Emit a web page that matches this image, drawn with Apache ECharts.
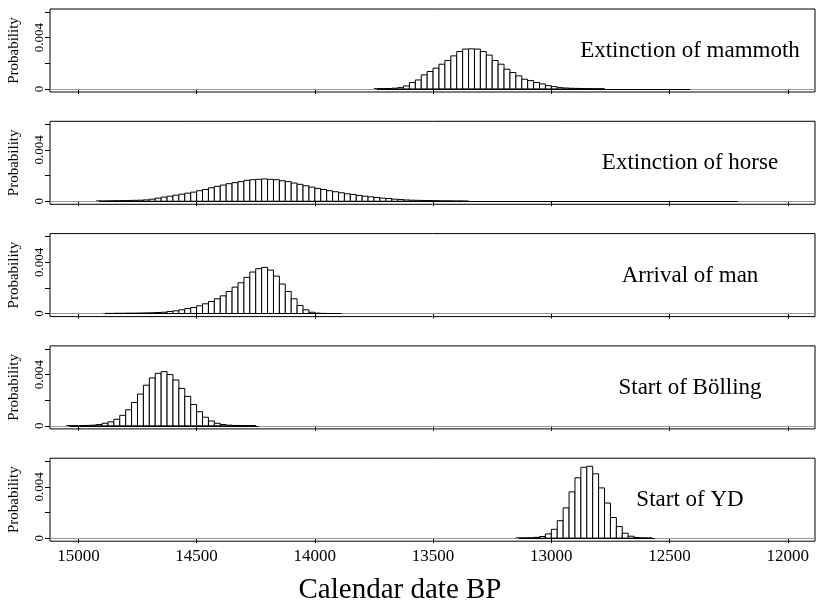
<!DOCTYPE html>
<html>
<head>
<meta charset="utf-8">
<script src="https://cdn.jsdelivr.net/npm/echarts@6/dist/echarts.min.js"></script>
<style>
  html, body { margin: 0; padding: 0; background: #fff; }
  #chart { width: 820px; height: 612px; }
</style>
</head>
<body>
<div id="chart"></div>
<script>
// histogram bins are 25 calendar years wide; each panel lists its bars from the oldest bin centre
const binWidth = 25;
const panelNames = ['Extinction of mammoth', 'Extinction of horse', 'Arrival of man', 'Start of Bölling', 'Start of YD'];

const mammothStart = 13737.5;
const mammothValues = [0.00001, 0.00002, 0.00003, 0.00006, 0.0001, 0.00023, 0.0005, 0.0007, 0.0011, 0.00136,
  0.00162, 0.00193, 0.00222, 0.00258, 0.00292, 0.00311, 0.00313, 0.00311, 0.00292, 0.00264,
  0.00222, 0.00193, 0.00154, 0.00128, 0.00102, 0.00076, 0.00065, 0.0005, 0.00039, 0.00026,
  0.00018, 0.0001, 0.00007, 0.00005, 0.00004, 0.00003, 0.00002, 0.00002, 0.00001];

const horseStart = 14912.5;
const horseValues = [0.00002, 0.00002, 0.00003, 0.00004, 0.00005, 0.00006, 0.00007, 0.00008, 0.000105, 0.00016,
  0.00024, 0.00032, 0.00039, 0.00047, 0.00055, 0.00063, 0.00071, 0.00082, 0.00092, 0.00105,
  0.00116, 0.00126, 0.00137, 0.00145, 0.00153, 0.00163, 0.00168, 0.00171, 0.00174, 0.00171,
  0.00168, 0.0016, 0.00153, 0.00142, 0.00132, 0.00121, 0.0011, 0.001, 0.00092, 0.00082,
  0.00074, 0.00066, 0.00058, 0.00053, 0.00045, 0.00039, 0.00034, 0.00029, 0.00024, 0.00021,
  0.00016, 0.00013, 0.0001, 0.00008, 0.00007, 0.00006, 0.00005, 0.00004, 0.00003, 0.00003,
  0.00002, 0.00002, 0.00001];

const manStart = 14887.5;
const manValues = [0.00001, 0.00001, 0.00002, 0.00002, 0.00003, 0.00003, 0.00004, 0.00005, 0.00006, 0.00008,
  0.0001, 0.00016, 0.00021, 0.00029, 0.00039, 0.00047, 0.0006, 0.00076, 0.00094, 0.00115,
  0.00138, 0.00172, 0.00206, 0.0024, 0.00282, 0.00324, 0.0035, 0.0036, 0.00339, 0.00292,
  0.0023, 0.00172, 0.00115, 0.00063, 0.00029, 0.0001, 0.00003, 0.00001];

const bollingStart = 15037.5;
const bollingValues = [0.00001, 0.00001, 0.00002, 0.00003, 0.00005, 0.0001, 0.0002, 0.00031, 0.00051, 0.00082,
  0.00125, 0.00182, 0.00248, 0.00317, 0.00374, 0.0041, 0.00423, 0.004, 0.00358, 0.00292,
  0.0023, 0.00166, 0.0011, 0.00067, 0.00038, 0.0002, 0.0001, 0.00005, 0.00003, 0.00002,
  0.00001, 0.00001];

const ydStart = 13137.5;
const ydValues = [0.00001, 0.00002, 0.00003, 0.00006, 0.00013, 0.00033, 0.00069, 0.00136, 0.00236, 0.00361,
  0.00471, 0.00553, 0.00561, 0.00502, 0.00392, 0.00274, 0.00161, 0.0009, 0.00038, 0.00015,
  0.00005, 0.00002, 0.00001];

// last year where a near-zero probability is still drawn
const tailEnds = [12412.5, 12212.5, 13887.5, 14237.5, 12562.5];

const xTicks = [15000, 14500, 14000, 13500, 13000, 12500, 12000];
const yTicks = [0, 0.002, 0.004, 0.006];
const yLabels = [0, 0.004];

const starts = [mammothStart, horseStart, manStart, bollingStart, ydStart];
const valueSets = [mammothValues, horseValues, manValues, bollingValues, ydValues];

const serif = '"Liberation Serif", "DejaVu Serif", serif';
const chart = echarts.init(document.getElementById('chart'));

const panelTop = i => 9 + i * 112.3;
const panelHeight = 83;

function renderBar(params, api) {
  const x = api.value(0);
  const y = api.value(1);
  const a = api.coord([x + binWidth / 2, y]);
  const b = api.coord([x - binWidth / 2, 0]);
  return {
    type: 'rect',
    shape: {
      x: Math.min(a[0], b[0]),
      y: Math.min(a[1], b[1]),
      width: Math.abs(b[0] - a[0]),
      height: Math.abs(b[1] - a[1])
    },
    style: { fill: '#fff', stroke: '#000', lineWidth: 1 }
  };
}

const grids = [], xAxes = [], yAxes = [], series = [], texts = [];
panelNames.forEach((name, i) => {
  const last = i === panelNames.length - 1;
  grids.push({
    left: 50, right: 5, top: panelTop(i), height: panelHeight,
    outerBoundsMode: 'none', containLabel: false,
    show: true, borderColor: '#000', borderWidth: 1
  });
  xAxes.push({
    gridIndex: i, type: 'value', inverse: true, min: 11885, max: 15120,
    axisLine: { show: false },
    splitLine: { show: false },
    axisTick: { show: true, length: 5, customValues: xTicks, lineStyle: { color: '#000' } },
    axisLabel: {
      show: last, customValues: xTicks, color: '#000', fontFamily: serif, fontSize: 17, margin: 7,
      formatter: v => String(v)
    }
  });
  yAxes.push({
    gridIndex: i, type: 'value', min: -0.00024, max: 0.00624,
    axisLine: { show: false },
    splitLine: { show: false },
    axisTick: { show: true, length: 5, customValues: yTicks, lineStyle: { color: '#000' } },
    axisLabel: {
      customValues: yLabels, rotate: 90, color: '#000', fontFamily: serif, fontSize: 13, margin: 4,
      formatter: v => (v === 0 ? '0' : v.toFixed(3))
    },
    name: 'Probability', nameLocation: 'middle', nameGap: 28,
    nameTextStyle: { color: '#000', fontFamily: serif, fontSize: 15 }
  });
  const data = valueSets[i].map((v, k) => [starts[i] - k * binWidth, v]);
  series.push({
    type: 'custom', xAxisIndex: i, yAxisIndex: i, clip: true,
    renderItem: renderBar,
    encode: { x: 0, y: 1 },
    data: data,
    markLine: {
      silent: true, symbol: 'none', label: { show: false },
      data: [
        { yAxis: 0, lineStyle: { color: '#999', width: 1, type: 'solid' } },
        [{ coord: [starts[i], 0], lineStyle: { color: '#000', width: 1, type: 'solid' } },
         { coord: [tailEnds[i], 0] }]
      ]
    }
  });
  texts.push({
    type: 'text', x: 690, y: panelTop(i) + 42,
    style: {
      text: name, fill: '#000', font: '23px ' + serif,
      textAlign: 'center', textVerticalAlign: 'middle'
    }
  });
});

// x axis title, centred as in the original figure
texts.push({
  type: 'text', x: 400, y: 590,
  style: {
    text: 'Calendar date BP', fill: '#000', font: '29px ' + serif,
    textAlign: 'center', textVerticalAlign: 'middle'
  }
});

chart.setOption({
  animation: false,
  grid: grids,
  xAxis: xAxes,
  yAxis: yAxes,
  series: series,
  graphic: texts
});
</script>
</body>
</html>
